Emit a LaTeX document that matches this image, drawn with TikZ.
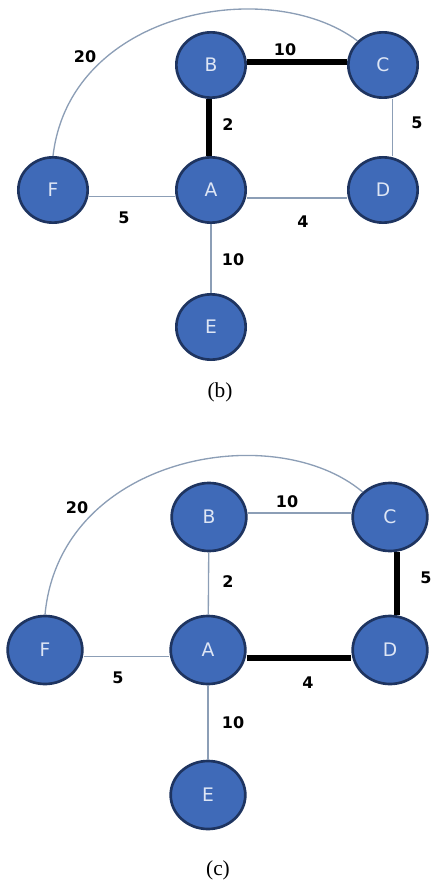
\documentclass[tikz,border=0pt]{standalone}
\usepackage{fontspec}
\setmainfont{Liberation Serif}
\setsansfont{DejaVu Sans}
\usetikzlibrary{shapes.geometric}

\tikzset{every picture/.style={line width=0.75pt}}
\tikzset{
  vertex/.style={ellipse, draw={rgb, 255:red, 30; green, 52; blue, 96 }, line width=2pt,
    fill={rgb, 255:red, 63; green, 106; blue, 184 }, text={rgb, 255:red, 222; green, 230; blue, 245 },
    font=\sffamily\fontsize{14}{16}\selectfont, minimum width=52pt, minimum height=49pt, inner sep=0pt},
  light/.style={draw={rgb, 255:red, 140; green, 158; blue, 182 }, line width=1pt},
  heavy/.style={draw=black, line width=4.5pt},
  weight/.style={font=\sffamily\bfseries\fontsize{12}{14}\selectfont, inner sep=0.75pt},
  caption/.style={font=\fontsize{16}{18}\selectfont, inner sep=0.75pt}
}

\begin{document}
\begin{tikzpicture}[x=0.75pt,y=0.75pt,yscale=-1,xscale=1]
        \useasboundingbox (0,0) rectangle (430,880);

        %Graph (b)
        %Shape: Circle
        \node [vertex] (bF) at (53,190) {F};
        \node [vertex] (bA) at (211,190) {A};
        \node [vertex] (bD) at (383,190) {D};
        \node [vertex] (bB) at (211,65) {B};
        \node [vertex] (bC) at (383,65) {C};
        \node [vertex] (bE) at (211,327) {E};
        %Straight Lines
        \draw [light] ([yshift=5pt]bF.east) -- ([yshift=5pt]bA.west);
        \draw [light] ([yshift=6pt]bA.east) -- ([yshift=6pt]bD.west);
        \draw [light] ([xshift=7pt]bC.south) -- ([xshift=7pt]bD.north);
        \draw [light] (bA) -- (bE);
        \draw [heavy] ([xshift=-1.5pt]bB.south) -- ([xshift=-1.5pt]bA.north);
        \draw [heavy] ([yshift=-2pt]bB.east) -- ([yshift=-2pt]bC.west);
        %Curve Lines
        \draw [light] (bF.north) .. controls (70,10) and (270,-25) .. (bC.north west);
        % Text Node
        \node [weight] (b20) at (85,57) {20};
        \node [weight] (bBC) at (285,50) {10};
        \node [weight] (bAB) at (228,125) {2};
        \node [weight] (bCD) at (417,123) {5};
        \node [weight] (bFA) at (124,218) {5};
        \node [weight] (bAD) at (303,222) {4};
        \node [weight] (bAE) at (233,260) {10};
        \node [caption] (bcap) at (220,392) {(b)};

        %Graph (c)
        \begin{scope}[vertex/.append style={minimum width=56pt, minimum height=51pt}]
        %Shape: Circle
        \node [vertex] (cF) at (45,650) {F};
        \node [vertex] (cA) at (208,650) {A};
        \node [vertex] (cD) at (390,650) {D};
        \node [vertex] (cB) at (209,517) {B};
        \node [vertex] (cC) at (390,517) {C};
        \node [vertex] (cE) at (208,795) {E};
        %Straight Lines
        \draw [light] ([yshift=5pt]cF.east) -- ([yshift=5pt]cA.west);
        \draw [light] ([yshift=-3pt]cB.east) -- ([yshift=-3pt]cC.west);
        \draw [light] (cB) -- (cA);
        \draw [light] (cA) -- (cE);
        \draw [heavy] ([xshift=5pt]cC.south) -- ([xshift=5pt]cD.north);
        \draw [heavy] ([yshift=6pt]cA.east) -- ([yshift=6pt]cD.west);
        %Curve Lines
        \draw [light] (cF.north) .. controls (60,455) and (275,418) .. (cC.north west);
        % Text Node
        \node [weight] (c20) at (77,508) {20};
        \node [weight] (cBC) at (287,502) {10};
        \node [weight] (cAB) at (228,582) {2};
        \node [weight] (cCD) at (426,578) {5};
        \node [weight] (cFA) at (118,678) {5};
        \node [weight] (cAD) at (308,683) {4};
        \node [weight] (cAE) at (233,723) {10};
        \node [caption] (ccap) at (218,870) {(c)};
        \end{scope}
\end{tikzpicture}
\end{document}
